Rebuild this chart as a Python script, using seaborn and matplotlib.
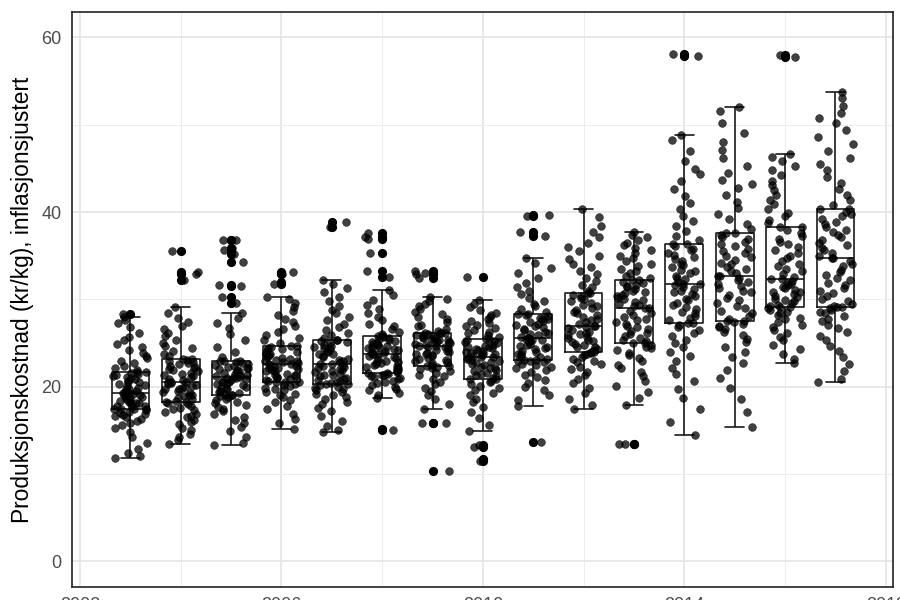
import numpy as np
import pandas as pd
import seaborn as sns
from matplotlib import pyplot as plt
import matplotlib.ticker as plticker

# production cost per farm and year
years = list(range(2003, 2018))

cost_2003 = [11.8, 12.1, 12.4, 12.9, 13.6, 14.2, 14.8, 15.3, 15.6, 15.9, 16.1, 16.3, 16.5, 16.7, 16.8, 16.9, 17.0, 17.1, 17.3, 17.4,
             17.4, 17.5, 17.5, 17.7, 17.8, 17.8, 18.0, 18.1, 18.1, 18.3, 18.4, 18.4, 18.6, 18.7, 18.8, 18.8, 19.0, 19.1, 19.2, 19.3,
             19.3, 19.4, 19.5, 19.7, 19.8, 19.9, 20.1, 20.2, 20.3, 20.5, 20.6, 20.7, 20.9, 21.0, 21.1, 21.2, 21.3, 21.5, 21.6, 21.7,
             21.7, 21.9, 22.2, 22.4, 22.7, 23.0, 23.3, 23.5, 23.9, 24.2, 24.6, 24.9, 25.3, 25.7, 26.2, 26.8, 27.3, 27.6, 28.0, 28.3]
cost_2004 = [13.5, 13.9, 14.3, 14.6, 15.0, 15.3, 15.7, 16.0, 16.2, 16.5, 16.7, 16.9, 17.1, 17.3, 17.5, 17.6, 17.8, 18.0, 18.1, 18.3,
             18.3, 18.4, 18.6, 18.7, 18.9, 19.0, 19.1, 19.3, 19.4, 19.5, 19.7, 19.8, 19.9, 20.0, 20.1, 20.2, 20.3, 20.4, 20.5, 20.6,
             20.6, 20.8, 20.9, 21.1, 21.2, 21.4, 21.5, 21.6, 21.8, 21.9, 22.0, 22.2, 22.3, 22.4, 22.6, 22.7, 22.8, 23.0, 23.1, 23.2,
             23.2, 23.5, 23.8, 24.1, 24.4, 24.7, 25.0, 25.4, 25.8, 26.1, 26.6, 27.0, 27.4, 27.9, 28.5, 29.1, 32.2, 32.9, 33.1, 35.5]
cost_2005 = [13.3, 13.6, 14.2, 14.9, 15.4, 15.8, 16.2, 16.5, 16.9, 17.2, 17.5, 17.7, 17.9, 18.1, 18.3, 18.5, 18.6, 18.8, 18.9, 19.0,
             19.0, 19.1, 19.3, 19.4, 19.5, 19.7, 19.8, 19.9, 20.0, 20.2, 20.3, 20.4, 20.5, 20.6, 20.7, 20.8, 20.9, 21.0, 21.0, 21.1,
             21.1, 21.2, 21.3, 21.4, 21.5, 21.6, 21.7, 21.8, 21.9, 22.0, 22.1, 22.2, 22.3, 22.4, 22.5, 22.6, 22.7, 22.8, 22.9, 23.0,
             23.0, 23.4, 24.0, 24.6, 25.3, 26.0, 26.7, 27.3, 27.9, 28.4, 29.6, 30.3, 31.5, 31.7, 34.3, 35.2, 35.7, 35.9, 36.8, 36.8]
cost_2006 = [15.2, 15.8, 16.3, 16.9, 17.4, 17.8, 18.2, 18.5, 18.8, 19.0, 19.2, 19.4, 19.6, 19.8, 19.9, 20.1, 20.2, 20.3, 20.5, 20.6,
             20.6, 20.7, 20.8, 20.9, 21.0, 21.1, 21.2, 21.3, 21.4, 21.5, 21.7, 21.8, 21.9, 22.0, 22.1, 22.2, 22.3, 22.4, 22.5, 22.6,
             22.6, 22.7, 22.8, 22.9, 23.0, 23.1, 23.2, 23.3, 23.4, 23.5, 23.6, 23.7, 23.8, 23.9, 24.0, 24.2, 24.3, 24.4, 24.6, 24.7,
             24.7, 25.0, 25.3, 25.6, 25.9, 26.3, 26.6, 27.0, 27.4, 27.8, 28.2, 28.7, 29.1, 29.6, 30.0, 30.3, 31.8, 32.0, 32.9, 33.1]
cost_2007 = [14.8, 15.0, 15.5, 16.1, 16.7, 17.2, 17.6, 18.0, 18.3, 18.6, 18.8, 19.0, 19.2, 19.4, 19.6, 19.7, 19.9, 20.0, 20.2, 20.3,
             20.3, 20.4, 20.5, 20.7, 20.8, 20.9, 21.0, 21.2, 21.3, 21.4, 21.5, 21.7, 21.8, 21.9, 22.0, 22.1, 22.3, 22.4, 22.5, 22.6,
             22.6, 22.8, 22.9, 23.1, 23.2, 23.4, 23.5, 23.7, 23.8, 24.0, 24.1, 24.3, 24.4, 24.6, 24.7, 24.8, 25.0, 25.1, 25.2, 25.3,
             25.3, 25.6, 25.9, 26.2, 26.5, 26.8, 27.2, 27.6, 28.0, 28.4, 28.8, 29.3, 29.8, 30.3, 30.8, 31.3, 31.8, 32.2, 38.3, 38.9]
cost_2008 = [15.1, 15.2, 18.7, 19.0, 19.3, 19.6, 19.8, 20.0, 20.2, 20.4, 20.6, 20.7, 20.9, 21.0, 21.1, 21.2, 21.3, 21.4, 21.5, 21.6,
             21.6, 21.7, 21.8, 21.9, 22.0, 22.1, 22.3, 22.4, 22.5, 22.6, 22.7, 22.8, 22.9, 23.0, 23.2, 23.3, 23.4, 23.5, 23.7, 23.8,
             23.8, 23.9, 24.0, 24.1, 24.2, 24.3, 24.4, 24.5, 24.6, 24.7, 24.8, 24.9, 25.0, 25.1, 25.2, 25.3, 25.5, 25.6, 25.7, 25.8,
             25.8, 26.0, 26.3, 26.6, 26.9, 27.2, 27.6, 28.0, 28.4, 28.9, 29.4, 29.9, 30.5, 31.1, 32.6, 33.3, 35.3, 37.2, 37.6, 36.9]
cost_2009 = [10.3, 15.9, 15.9, 17.4, 18.0, 18.6, 19.1, 19.5, 19.9, 20.3, 20.6, 20.9, 21.2, 21.4, 21.6, 21.8, 22.0, 22.1, 22.3, 22.4,
             22.4, 22.5, 22.7, 22.8, 22.9, 23.1, 23.2, 23.3, 23.5, 23.6, 23.7, 23.8, 23.9, 24.0, 24.1, 24.2, 24.4, 24.5, 24.6, 24.7,
             24.7, 24.8, 24.9, 25.0, 25.1, 25.1, 25.2, 25.3, 25.4, 25.5, 25.6, 25.6, 25.7, 25.8, 25.9, 25.9, 26.0, 26.1, 26.1, 26.2,
             26.2, 26.4, 26.6, 26.9, 27.1, 27.4, 27.7, 28.0, 28.3, 28.6, 28.9, 29.2, 29.5, 29.8, 30.0, 30.3, 32.5, 33.0, 33.3, 32.9]
cost_2010 = [11.5, 11.7, 13.1, 13.3, 14.9, 15.6, 16.4, 17.1, 17.7, 18.2, 18.6, 19.0, 19.3, 19.6, 19.9, 20.1, 20.3, 20.5, 20.7, 20.9,
             20.9, 21.0, 21.2, 21.3, 21.5, 21.6, 21.8, 21.9, 22.1, 22.2, 22.3, 22.5, 22.6, 22.7, 22.8, 23.0, 23.1, 23.2, 23.3, 23.4,
             23.4, 23.5, 23.6, 23.7, 23.8, 23.9, 24.0, 24.1, 24.2, 24.3, 24.4, 24.5, 24.6, 24.7, 24.8, 25.0, 25.1, 25.2, 25.4, 25.5,
             25.5, 25.7, 25.9, 26.1, 26.3, 26.5, 26.7, 26.9, 27.1, 27.3, 27.5, 27.7, 28.0, 28.2, 28.5, 28.8, 29.1, 29.5, 29.9, 32.6]
cost_2011 = [13.7, 17.8, 18.5, 19.1, 19.6, 20.0, 20.4, 20.8, 21.1, 21.4, 21.7, 21.9, 22.1, 22.3, 22.5, 22.6, 22.8, 22.9, 23.0, 23.1,
             23.1, 23.2, 23.4, 23.5, 23.7, 23.8, 24.0, 24.1, 24.3, 24.4, 24.6, 24.7, 24.8, 24.9, 25.1, 25.2, 25.3, 25.4, 25.5, 25.6,
             25.6, 25.7, 25.9, 26.0, 26.2, 26.3, 26.5, 26.6, 26.8, 26.9, 27.1, 27.2, 27.4, 27.5, 27.7, 27.8, 27.9, 28.1, 28.2, 28.3,
             28.3, 28.6, 28.9, 29.2, 29.5, 29.8, 30.2, 30.6, 31.0, 31.4, 31.9, 32.4, 33.0, 33.6, 34.2, 34.7, 37.3, 37.7, 39.5, 39.7]
cost_2012 = [17.4, 17.9, 18.6, 19.3, 19.9, 20.4, 20.9, 21.3, 21.7, 22.0, 22.3, 22.6, 22.8, 23.0, 23.2, 23.4, 23.6, 23.7, 23.9, 24.0,
             24.0, 24.2, 24.3, 24.5, 24.6, 24.8, 24.9, 25.1, 25.2, 25.4, 25.6, 25.7, 25.9, 26.0, 26.2, 26.3, 26.5, 26.7, 26.8, 27.0,
             27.0, 27.2, 27.4, 27.6, 27.8, 28.0, 28.2, 28.4, 28.6, 28.8, 29.0, 29.2, 29.4, 29.6, 29.8, 30.0, 30.2, 30.4, 30.5, 30.7,
             30.7, 31.0, 31.4, 31.7, 32.1, 32.5, 32.9, 33.3, 33.7, 34.1, 34.6, 35.0, 35.5, 36.0, 36.5, 37.1, 37.7, 38.4, 39.4, 40.4]
cost_2013 = [13.5, 13.5, 17.9, 18.7, 19.4, 20.1, 20.7, 21.2, 21.7, 22.1, 22.5, 22.9, 23.3, 23.6, 23.9, 24.2, 24.4, 24.6, 24.8, 25.0,
             25.0, 25.2, 25.4, 25.6, 25.8, 26.0, 26.2, 26.4, 26.6, 26.8, 27.0, 27.2, 27.4, 27.6, 27.8, 28.0, 28.2, 28.5, 28.7, 29.0,
             29.0, 29.2, 29.4, 29.5, 29.7, 29.9, 30.0, 30.2, 30.4, 30.5, 30.7, 30.9, 31.0, 31.2, 31.4, 31.5, 31.7, 31.9, 32.0, 32.2,
             32.2, 32.5, 32.7, 33.0, 33.3, 33.5, 33.8, 34.1, 34.4, 34.7, 35.0, 35.3, 35.6, 35.9, 36.2, 36.5, 36.8, 37.1, 37.4, 37.7]
cost_2014 = [14.5, 16.0, 17.5, 18.7, 19.8, 20.7, 21.5, 22.2, 22.9, 23.5, 24.0, 24.5, 25.0, 25.4, 25.8, 26.2, 26.5, 26.8, 27.1, 27.3,
             27.3, 27.6, 27.9, 28.1, 28.4, 28.6, 28.9, 29.1, 29.4, 29.6, 29.9, 30.1, 30.4, 30.6, 30.8, 31.0, 31.2, 31.4, 31.6, 31.8,
             31.8, 32.0, 32.3, 32.5, 32.7, 33.0, 33.2, 33.4, 33.7, 33.9, 34.1, 34.4, 34.6, 34.8, 35.1, 35.3, 35.6, 35.8, 36.1, 36.3,
             36.3, 36.8, 37.3, 37.8, 38.4, 39.0, 39.6, 40.3, 41.0, 41.8, 42.6, 43.5, 44.3, 44.9, 45.8, 47.0, 48.3, 48.8, 57.9, 58.1]
cost_2015 = [15.4, 17.1, 18.6, 19.9, 21.0, 21.9, 22.7, 23.4, 24.0, 24.6, 25.1, 25.5, 25.9, 26.3, 26.6, 26.8, 27.0, 27.2, 27.4, 27.5,
             27.5, 27.8, 28.1, 28.4, 28.7, 29.0, 29.3, 29.6, 29.9, 30.2, 30.5, 30.8, 31.0, 31.3, 31.5, 31.8, 32.0, 32.2, 32.5, 32.7,
             32.7, 33.0, 33.2, 33.5, 33.7, 34.0, 34.2, 34.5, 34.8, 35.0, 35.3, 35.5, 35.8, 36.1, 36.3, 36.6, 36.9, 37.1, 37.4, 37.6,
             37.6, 38.1, 38.6, 39.2, 39.8, 40.5, 41.2, 41.9, 42.7, 43.2, 43.7, 44.5, 45.3, 46.2, 47.1, 48.0, 49.0, 50.2, 51.6, 52.0]
cost_2016 = [22.7, 23.2, 23.8, 24.3, 24.8, 25.3, 25.7, 26.1, 26.5, 26.8, 27.1, 27.4, 27.7, 27.9, 28.2, 28.4, 28.6, 28.8, 29.0, 29.1,
             29.1, 29.3, 29.4, 29.6, 29.8, 29.9, 30.1, 30.3, 30.4, 30.6, 30.8, 30.9, 31.1, 31.3, 31.4, 31.6, 31.8, 31.9, 32.1, 32.3,
             32.3, 32.6, 32.9, 33.2, 33.5, 33.8, 34.1, 34.4, 34.7, 35.0, 35.3, 35.6, 36.0, 36.3, 36.6, 36.9, 37.3, 37.6, 38.0, 38.3,
             38.3, 38.7, 39.1, 39.5, 39.9, 40.4, 40.9, 41.4, 41.9, 42.5, 43.1, 43.6, 44.2, 44.8, 45.3, 45.8, 46.3, 46.7, 57.8, 58.0]
cost_2017 = [20.5, 20.9, 21.8, 22.6, 23.4, 24.1, 24.7, 25.3, 25.8, 26.3, 26.7, 27.1, 27.5, 27.8, 28.1, 28.4, 28.6, 28.8, 29.0, 29.1,
             29.1, 29.3, 29.5, 29.8, 30.1, 30.4, 30.7, 31.0, 31.3, 31.6, 31.9, 32.2, 32.5, 32.8, 33.1, 33.4, 33.8, 34.1, 34.4, 34.7,
             34.7, 35.0, 35.3, 35.6, 35.9, 36.2, 36.5, 36.8, 37.1, 37.4, 37.7, 38.0, 38.3, 38.6, 38.9, 39.2, 39.5, 39.8, 40.0, 40.3,
             40.3, 40.8, 41.4, 42.0, 42.6, 43.3, 44.0, 44.8, 45.5, 46.2, 47.0, 47.8, 48.6, 49.4, 50.2, 50.8, 51.3, 52.1, 53.0, 53.7]

all_costs = [cost_2003, cost_2004, cost_2005, cost_2006, cost_2007, cost_2008, cost_2009, cost_2010,
             cost_2011, cost_2012, cost_2013, cost_2014, cost_2015, cost_2016, cost_2017]

x_ticks = [2002, 2006, 2010, 2014, 2018]
y_ticks = [0, 20, 40, 60]

rows = []
for yr, vals in zip(years, all_costs):
    for v in vals:
        rows.append((yr, v))
df = pd.DataFrame(rows, columns=['aar', 'kostnad'])

sns.set_style('white')
plt.rcParams['font.family'] = ['Liberation Sans', 'DejaVu Sans']

np.random.seed(7)
fig = plt.figure(figsize=(9, 6), dpi=100)
ax = fig.add_axes([0.08, 0.022, 0.912, 0.958])

sns.stripplot(data=df, x='aar', y='kostnad', native_scale=True, jitter=0.35,
              color='black', alpha=0.75, size=5.6, linewidth=0.4, edgecolor='black', ax=ax)
sns.boxplot(data=df, x='aar', y='kostnad', native_scale=True, width=0.75, fill=False,
            color='#1a1a1a', linewidth=1.2,
            flierprops=dict(marker='o', markerfacecolor='black', markeredgecolor='black', markersize=5.6),
            ax=ax)

ax.set_xlim(2001.84, 2018.14)
ax.set_ylim(-2.9, 62.9)
ax.set_xticks(x_ticks)
ax.xaxis.set_minor_locator(plticker.MultipleLocator(2))
ax.set_yticks(y_ticks)
ax.yaxis.set_minor_locator(plticker.MultipleLocator(10))
ax.grid(which='major', color='#e6e6e6', linewidth=1.3)
ax.grid(which='minor', color='#ececec', linewidth=0.7)
ax.set_axisbelow(True)
ax.tick_params(which='minor', length=0)
ax.tick_params(which='major', length=4.5, width=1.1, color='#333333', labelcolor='#4d4d4d',
               labelsize=13, pad=3)

for s in ax.spines.values():
    s.set_color('#222222')
    s.set_linewidth(1.2)
    s.set_visible(True)

ax.set_xlabel('')
ax.set_ylabel('Produksjonskostnad (kr/kg), inflasjonsjustert', fontsize=16.4, color='black', labelpad=5)

fig.savefig('out.png', dpi=100)
